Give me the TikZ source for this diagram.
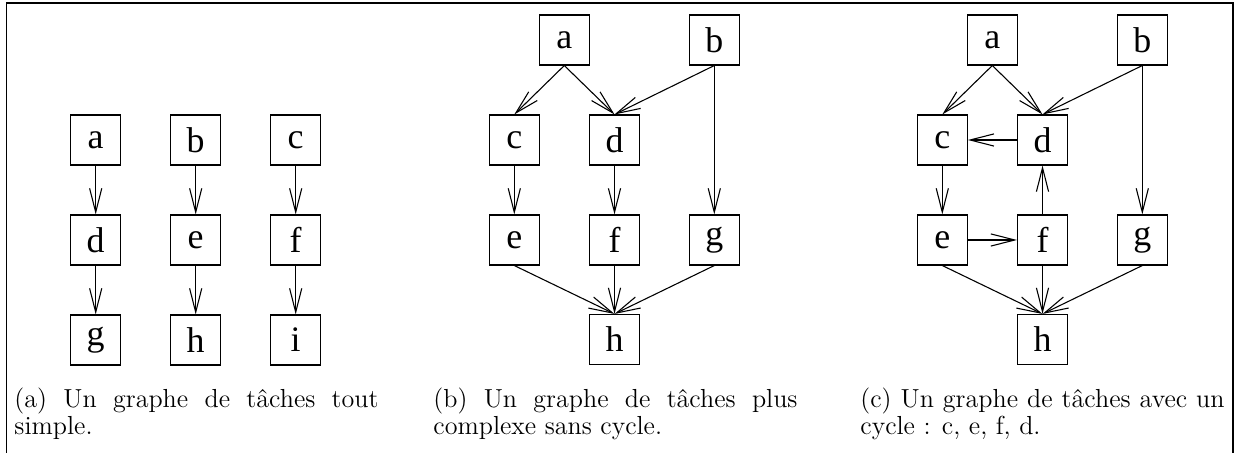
\documentclass[tikz,border=0pt]{standalone}
\usepackage{fontspec}
\newfontfamily\tnr{Liberation Serif}
\usetikzlibrary{arrows.meta}
\hyphenpenalty=10000
\exhyphenpenalty=10000
\begin{document}
\begin{tikzpicture}[x=0.46pt,y=-0.46pt,
  task/.style={draw, line width=0.5pt, minimum size=23pt, inner sep=0pt, font=\fontsize{16.5}{16.5}\selectfont\tnr},
  arr/.style={line width=0.5pt, -{Straight Barb[length=11pt,width=5.6pt]}},
  captxt/.style={anchor=north west, inner sep=0pt, text width=167.5pt, align=justify, font=\fontsize{12}{12.2}\selectfont}]
\useasboundingbox (0,0) rectangle (1237,453);
\draw[line width=0.6pt] (6.5,453) -- (6.5,3) -- (1233,3) -- (1233,453);
% (a)
\node[task] (aa) at (95.7,140) {a};
\node[task] (ab) at (195.7,140) {b};
\node[task] (ac) at (295.7,140) {c};
\node[task] (ad) at (95.7,240) {d};
\node[task] (ae) at (195.7,240) {e};
\node[task] (af) at (295.7,240) {f};
\node[task] (ag) at (95.7,340) {g};
\node[task] (ah) at (195.7,340) {h};
\node[task] (ai) at (295.7,340) {i};
\draw[arr] (aa) -- (ad); \draw[arr] (ad) -- (ag);
\draw[arr] (ab) -- (ae); \draw[arr] (ae) -- (ah);
\draw[arr] (ac) -- (af); \draw[arr] (af) -- (ai);
% (b)
\node[task] (ba) at (564.3,40) {a};
\node[task] (bb) at (714.3,40) {b};
\node[task] (bc) at (514.3,140) {c};
\node[task] (bd) at (614.5,140) {d};
\node[task] (be) at (514.3,240) {e};
\node[task] (bf) at (614.5,240) {f};
\node[task] (bg) at (714.3,240) {g};
\node[task] (bh) at (614.5,339.5) {h};
\draw[arr] (ba.south) -- (bc.north);
\draw[arr] (ba.south) -- (bd.north);
\draw[arr] (bb.south) -- (bd.north);
\draw[arr] (bb.south) -- (bg.north);
\draw[arr] (bc) -- (be);
\draw[arr] (bd) -- (bf);
\draw[arr] (be.south) -- (bh.north);
\draw[arr] (bf.south) -- (bh.north);
\draw[arr] (bg.south) -- (bh.north);
% (c)
\node[task] (ca) at (992.3,40) {a};
\node[task] (cb) at (1142.3,40) {b};
\node[task] (cc) at (942.3,140) {c};
\node[task] (cd) at (1042.5,140) {d};
\node[task] (ce) at (942.3,240) {e};
\node[task] (cf) at (1042.5,240) {f};
\node[task] (cg) at (1142.3,240) {g};
\node[task] (ch) at (1042.5,339.5) {h};
\draw[arr] (ca.south) -- (cc.north);
\draw[arr] (ca.south) -- (cd.north);
\draw[arr] (cb.south) -- (cd.north);
\draw[arr] (cb.south) -- (cg.north);
\draw[arr] (cd.west) -- (cc.east);
\draw[arr] (cc) -- (ce);
\draw[arr] (ce.east) -- (cf.west);
\draw[arr] (cf.north) -- (cd.south);
\draw[arr] (ce.south) -- (ch.north);
\draw[arr] (cf.south) -- (ch.north);
\draw[arr] (cg.south) -- (ch.north);
% captions
\node[captxt] (capa) at (14,388) {(a) Un graphe de tâches tout simple.};
\node[captxt] (capb) at (433,388) {(b) Un graphe de tâches plus complexe sans cycle.};
\node[captxt] (capc) at (860,388) {(c) Un graphe de tâches avec un cycle~: c, e, f, d.};
\end{tikzpicture}
\end{document}
